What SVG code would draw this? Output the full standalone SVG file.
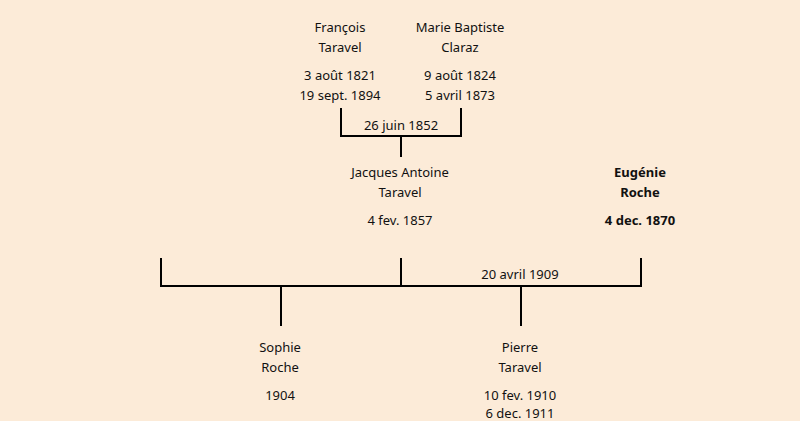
<svg xmlns="http://www.w3.org/2000/svg" width="800" height="421" viewBox="0 0 800 421">
<style>
text{font-family:"Comic Sans MS","Noto Sans","DejaVu Sans",sans-serif;font-size:13px;fill:#111;text-anchor:middle}
.b{font-weight:bold}
.ln{stroke:#000;stroke-width:2;fill:none}
</style>
<rect width="800" height="421" fill="#FCEBD8"/>
<g id="connectors">
<path class="ln" d="M341,108V136H461V108M401,136V157"/>
<path class="ln" d="M161,258V286H641V258M401,258V286M281,286V326M521,286V326"/>
</g>
<g id="francois">
<text x="340" y="32">François</text>
<text x="340" y="52">Taravel</text>
<text x="340" y="80">3 août 1821</text>
<text x="340" y="100">19 sept. 1894</text>
</g>
<g id="marie">
<text x="460" y="32">Marie Baptiste</text>
<text x="460" y="52">Claraz</text>
<text x="460" y="80">9 août 1824</text>
<text x="460" y="100">5 avril 1873</text>
</g>
<g id="marriage1">
<text x="401" y="130">26 juin 1852</text>
</g>
<g id="jacques">
<text x="400" y="177">Jacques Antoine</text>
<text x="400" y="197">Taravel</text>
<text x="400" y="225">4 fev. 1857</text>
</g>
<g id="eugenie">
<text class="b" x="640" y="177">Eugénie</text>
<text class="b" x="640" y="197">Roche</text>
<text class="b" x="640" y="225">4 dec. 1870</text>
</g>
<g id="marriage2">
<text x="520" y="279">20 avril 1909</text>
</g>
<g id="sophie">
<text x="280" y="352">Sophie</text>
<text x="280" y="372">Roche</text>
<text x="280" y="400">1904</text>
</g>
<g id="pierre">
<text x="520" y="352">Pierre</text>
<text x="520" y="372">Taravel</text>
<text x="520" y="400">10 fev. 1910</text>
<text x="520" y="418">6 dec. 1911</text>
</g>
</svg>
